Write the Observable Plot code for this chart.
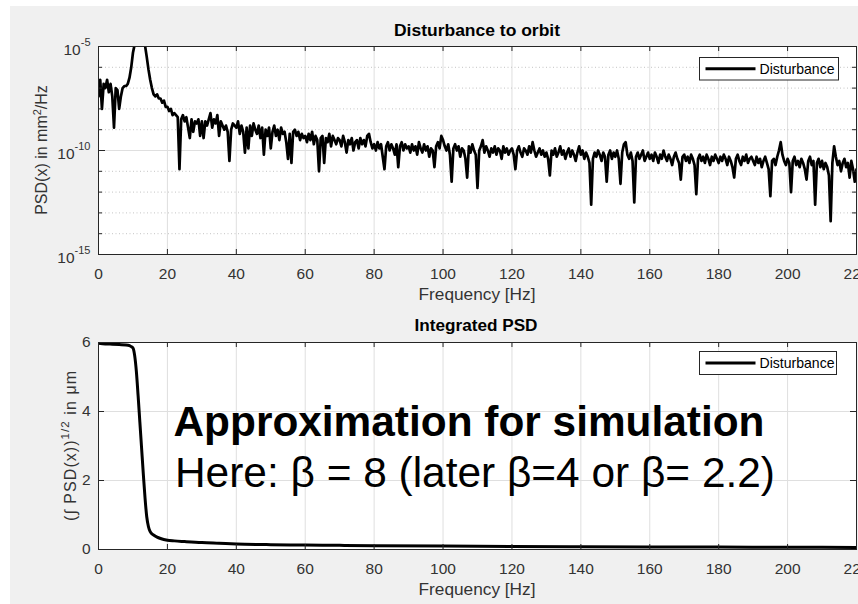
<!DOCTYPE html>
<html><head><meta charset="utf-8">
<script src="https://cdn.jsdelivr.net/npm/d3@7"></script>
<script src="https://cdn.jsdelivr.net/npm/@observablehq/plot@0.6"></script>
<style>
html,body{margin:0;padding:0;background:#fff;overflow:hidden;}
#fig{position:absolute;left:10px;top:6px;width:848px;height:598px;background:#f0f0f0;}
.layer{position:absolute;left:0;top:0;}
</style></head><body>
<div id="fig"></div>
<div id="topPlot" class="layer"></div>
<div id="botPlot" class="layer" style="top:300px"></div>
<svg id="ov" class="layer" width="858" height="604" style="pointer-events:none"></svg>
<script>
// ---------------- data ----------------
const xTicks = [0, 20, 40, 60, 80, 100, 120, 140, 160, 180, 200, 220];
const psdMajorTicks = [1e-15, 1e-10, 1e-5];
const psdMinorTicks = [1e-14, 1e-13, 1e-12, 1e-11, 1e-9, 1e-8, 1e-7, 1e-6];
const intYTicks = [0, 2, 4, 6];

// PSD sampled every 0.5 Hz from 0 to 220 Hz, values given as log10(PSD in mm^2/Hz)
const psdStepHz = 0.5;
const psdLog10 = [
 -7.4,-6.6,-8.0,-6.8,-7.0,-6.6,-7.2,-6.8,-7.4,-8.9,-7.0,-7.1,-8.0,-7.4,-7.0,-6.9,-6.9,-6.8,-6.5,-6.0,
 -5.3,-4.9,-4.7,-4.6,-4.6,-4.7,-4.8,-4.95,-5.5,-6.1,-6.6,-7.0,-7.3,-7.4,-7.3,-7.5,-7.5,-7.7,-7.6,-7.9,
 -7.9,-8.1,-8.0,-8.3,-8.2,-8.3,-8.4,-10.9,-8.5,-8.3,-8.6,-8.4,-8.9,-9.4,-8.5,-9.1,-8.6,-8.7,-8.5,-9.3,
 -8.6,-9.4,-8.6,-8.8,-8.5,-8.2,-8.9,-8.5,-8.7,-8.3,-9.3,-8.6,-8.8,-9.0,-8.8,-9.1,-10.5,-9.0,-8.7,-8.8,
 -8.9,-8.6,-9.2,-8.8,-9.1,-10.1,-8.9,-9.9,-8.8,-9.3,-8.7,-9.0,-9.2,-8.8,-9.4,-8.9,-10.2,-9.0,-9.3,-8.9,
 -9.9,-9.1,-8.8,-9.3,-9.0,-9.5,-8.9,-9.2,-9.1,-9.6,-10.4,-9.2,-10.6,-9.1,-9.0,-9.3,-9.1,-9.5,-9.2,-9.4,
 -9.3,-9.6,-9.2,-9.5,-9.1,-9.7,-9.3,-9.5,-11.0,-9.4,-9.3,-10.6,-9.4,-9.6,-9.2,-9.8,-9.3,-9.5,-9.7,-9.4,
 -9.5,-9.8,-9.3,-9.6,-10.1,-9.5,-9.7,-9.4,-10.0,-9.6,-9.5,-9.9,-9.4,-9.7,-9.5,-9.8,-9.3,-9.2,-9.6,-9.9,
 -9.7,-10.0,-9.6,-9.9,-9.7,-10.3,-10.9,-9.8,-9.6,-10.0,-9.7,-9.9,-10.2,-9.7,-10.8,-9.8,-9.6,-10.0,-9.7,-9.9,
 -9.8,-10.1,-9.7,-10.0,-9.8,-10.2,-9.6,-9.9,-10.1,-9.7,-10.0,-9.8,-10.3,-9.9,-10.0,-10.8,-9.8,-9.6,-9.9,-9.3,
 -9.5,-9.8,-10.0,-9.7,-10.2,-11.5,-9.9,-9.7,-10.0,-9.8,-10.3,-9.9,-10.0,-10.4,-11.3,-9.8,-10.1,-9.7,-10.0,-10.2,
 -11.8,-10.0,-9.8,-9.5,-10.1,-9.8,-10.0,-10.3,-9.9,-10.1,-9.8,-10.2,-9.9,-10.0,-10.4,-9.8,-10.1,-9.9,-10.2,-10.0,
 -9.9,-10.2,-10.9,-10.0,-9.8,-10.1,-10.3,-9.9,-10.0,-10.2,-9.8,-10.1,-9.6,-10.0,-10.3,-10.1,-9.9,-10.2,-10.0,-10.3,
 -10.1,-10.4,-11.2,-10.0,-10.2,-9.9,-10.3,-10.1,-9.8,-10.2,-10.0,-10.4,-10.1,-9.9,-10.3,-10.0,-10.2,-10.5,-10.1,-9.8,
 -10.2,-10.0,-10.4,-10.1,-10.3,-10.6,-12.6,-10.4,-10.1,-10.3,-10.0,-10.2,-10.5,-10.1,-10.3,-11.5,-10.2,-10.0,-10.4,-10.1,
 -10.3,-10.0,-10.4,-11.6,-10.1,-9.7,-9.6,-10.2,-10.4,-10.1,-10.5,-12.5,-10.3,-10.1,-10.4,-10.2,-10.0,-10.5,-10.3,-10.1,
 -10.4,-10.2,-10.5,-10.1,-10.3,-10.6,-10.2,-10.4,-10.0,-10.3,-10.5,-10.2,-10.4,-10.7,-10.3,-10.1,-10.4,-10.6,-11.4,-10.3,
 -10.2,-10.5,-10.3,-10.6,-10.2,-10.4,-10.7,-12.1,-10.4,-10.2,-10.5,-10.3,-10.6,-10.2,-10.4,-10.7,-10.3,-10.5,-10.2,-10.4,
 -10.6,-10.3,-10.5,-10.2,-10.4,-10.7,-10.3,-10.5,-10.8,-11.3,-10.4,-10.2,-10.5,-10.7,-10.3,-10.5,-10.2,-10.6,-10.4,-10.3,
 -10.5,-10.7,-10.3,-10.6,-10.4,-10.8,-10.5,-10.3,-10.6,-10.9,-12.2,-10.5,-10.4,-10.7,-10.3,-10.0,-9.6,-10.2,-10.5,-10.7,
 -10.4,-10.6,-12.0,-10.5,-10.3,-10.7,-10.5,-10.8,-10.4,-10.6,-10.9,-11.4,-10.5,-10.3,-10.7,-10.5,-12.6,-10.6,-10.4,-10.8,
 -10.5,-10.9,-10.6,-10.8,-11.2,-13.4,-10.6,-9.8,-10.3,-10.7,-10.5,-11.0,-10.6,-10.4,-10.8,-10.6,-11.3,-10.5,-10.9,-11.5,-10.9
];

// Integrated PSD (µm)
const intFreq = [0,2,4,6,8,9,9.5,10,10.5,11,11.5,12,12.5,13,13.5,14,14.5,15,16,17,18,20,22,25,30,35,40,50,60,70,80,100,120,140,160,180,200,220];
const intVal  = [5.98,5.96,5.95,5.94,5.93,5.91,5.88,5.84,5.62,5.15,4.45,3.7,2.95,2.2,1.5,0.95,0.66,0.52,0.42,0.36,0.32,0.27,0.25,0.23,0.2,0.18,0.16,0.14,0.13,0.12,0.11,0.1,0.09,0.08,0.075,0.07,0.065,0.06];

const seriesName = "Disturbance";

// ---------------- styling ----------------
const FONT = '"Liberation Sans", Arial, Helvetica, sans-serif';
const gridColor = "#dfdfdf";
const minorColor = "#c4c4c4";
const axisColor = "#262626";
const textGray = "#333333";

const psdData = psdLog10.map((e, i) => ({f: i * psdStepHz, v: Math.pow(10, e)}));
const intData = intFreq.map((f, i) => ({f, v: intVal[i]}));

const W = 858, mL = 98, mR = 2;
const pw = W - mL - mR;

// ---- top plot ----
const H1 = 300, mT1 = 46, mB1 = 46, ph1 = H1 - mT1 - mB1;
const chartTop = Plot.plot({
  width: W, height: H1, marginLeft: mL, marginRight: mR, marginTop: mT1, marginBottom: mB1,
  style: {background: "transparent", fontFamily: FONT, overflow: "visible"},
  x: {domain: [0, 220]},
  y: {type: "log", domain: [1e-15, 1e-5]},
  marks: [
    Plot.frame({fill: "white"}),
    Plot.ruleX(xTicks, {stroke: gridColor}),
    Plot.ruleY(psdMinorTicks, {stroke: minorColor, strokeDasharray: "1,2.5"}),
    Plot.ruleY(psdMajorTicks, {stroke: gridColor}),
    Plot.line(psdData, {x: "f", y: "v", stroke: "black", strokeWidth: 2.7, clip: true}),
    Plot.tickX(xTicks, {stroke: axisColor, insetTop: ph1 - 5}),
    Plot.tickX(xTicks, {stroke: axisColor, insetBottom: ph1 - 5}),
    Plot.tickY(psdMajorTicks, {stroke: axisColor, insetRight: pw - 7}),
    Plot.tickY(psdMajorTicks, {stroke: axisColor, insetLeft: pw - 7}),
    Plot.tickY(psdMinorTicks, {stroke: axisColor, insetRight: pw - 4}),
    Plot.tickY(psdMinorTicks, {stroke: axisColor, insetLeft: pw - 4}),
    Plot.frame({stroke: axisColor}),
    Plot.axisX({ticks: xTicks, tickSize: 0, tickPadding: 13, fontSize: 15.5, color: textGray, label: null, tickFormat: d => String(d)}),
    Plot.axisY({ticks: psdMajorTicks, tickSize: 0, tickPadding: 8, fontSize: 15.5, color: textGray, label: null,
      tickFormat: d => "10^" + Math.round(Math.log10(d))})
  ]
});
document.getElementById("topPlot").appendChild(chartTop);
d3.select(chartTop).selectAll('g[aria-label="y-axis tick label"] text').each(function() {
  const t = this.textContent; const [b, e] = t.split("^");
  const s = d3.select(this); s.text(null);
  s.append("tspan").attr("dy", "0.2em").text(b);
  s.append("tspan").attr("dy", "-0.75em").attr("font-size", 11).text(e);
});

// ---- bottom plot ----
const H2 = 304, mT2 = 42, mB2 = 55, ph2 = H2 - mT2 - mB2;
const chartBot = Plot.plot({
  width: W, height: H2, marginLeft: mL, marginRight: mR, marginTop: mT2, marginBottom: mB2,
  style: {background: "transparent", fontFamily: FONT, overflow: "visible"},
  x: {domain: [0, 220]},
  y: {domain: [0, 6]},
  marks: [
    Plot.frame({fill: "white"}),
    Plot.ruleX(xTicks, {stroke: gridColor}),
    Plot.ruleY(intYTicks, {stroke: gridColor}),
    Plot.line(intData, {x: "f", y: "v", stroke: "black", strokeWidth: 3, curve: "monotone-x", clip: true}),
    Plot.tickX(xTicks, {stroke: axisColor, insetTop: ph2 - 5}),
    Plot.tickX(xTicks, {stroke: axisColor, insetBottom: ph2 - 5}),
    Plot.tickY(intYTicks, {stroke: axisColor, insetRight: pw - 6}),
    Plot.tickY(intYTicks, {stroke: axisColor, insetLeft: pw - 6}),
    Plot.frame({stroke: axisColor}),
    Plot.axisX({ticks: xTicks, tickSize: 0, tickPadding: 13, fontSize: 15.5, color: textGray, label: null, tickFormat: d => String(d)}),
    Plot.axisY({ticks: intYTicks, tickSize: 0, tickPadding: 8, fontSize: 15.5, color: textGray, label: null, tickFormat: d => String(d)})
  ]
});
document.getElementById("botPlot").appendChild(chartBot);

// ---------------- overlay texts ----------------
const ov = d3.select("#ov").style("font-family", FONT);
function txt(x, y, s, o = {}) {
  const t = ov.append("text").attr("x", x).attr("y", y)
    .attr("text-anchor", o.anchor || "middle")
    .attr("font-size", o.size || 16)
    .attr("font-weight", o.bold ? "bold" : "normal")
    .attr("fill", o.fill || "#000").text(s);
  if (o.len) t.attr("textLength", o.len).attr("lengthAdjust", "spacingAndGlyphs");
  return t;
}
txt(477, 35.7, "Disturbance to orbit", {bold: true, size: 16, len: 166});
txt(477, 300, "Frequency [Hz]", {size: 16, fill: textGray, len: 117});
txt(476, 330.7, "Integrated PSD", {bold: true, size: 16, len: 123});
txt(477, 594.8, "Frequency [Hz]", {size: 16, fill: textGray, len: 117});

// y label top
{
  const g = ov.append("text").attr("transform", "translate(46.5,150) rotate(-90)")
    .attr("text-anchor", "middle").attr("font-size", 16).attr("fill", textGray);
  g.append("tspan").text("PSD(x) in mm");
  g.append("tspan").attr("dy", -6).attr("font-size", 11).text("2");
  g.append("tspan").attr("dy", 6).text("/Hz");
}
// y label bottom
{
  const g = ov.append("text").attr("transform", "translate(76,446) rotate(-90)")
    .attr("text-anchor", "middle").attr("font-size", 16).attr("fill", textGray)
    .attr("textLength", 150).attr("lengthAdjust", "spacing");
  g.append("tspan").text("(\u222B PSD(x))");
  g.append("tspan").attr("dy", -7).attr("font-size", 11.5).text("1/2");
  g.append("tspan").attr("dy", 7).text(" in \u03BCm");
}

// legends
function legend(x, y, w, h) {
  ov.append("rect").attr("x", x).attr("y", y).attr("width", w).attr("height", h)
    .attr("fill", "white").attr("stroke", axisColor).attr("stroke-width", 1);
  const cy = y + h / 2;
  ov.append("line").attr("x1", x + 6).attr("x2", x + 56).attr("y1", cy).attr("y2", cy)
    .attr("stroke", "black").attr("stroke-width", 3);
  txt(x + 60, cy + 5.3, seriesName, {anchor: "start", size: 14.5, len: 75});
}
legend(699.5, 57.5, 139, 22.5);
legend(699.5, 351.5, 137, 23);

// annotation
txt(173.5, 436, "Approximation for simulation", {anchor: "start", bold: true, size: 42, len: 591});
txt(175, 486.7, "Here: \u03B2 = 8 (later \u03B2=4 or \u03B2= 2.2)", {anchor: "start", size: 43, len: 600});
</script></body></html>
